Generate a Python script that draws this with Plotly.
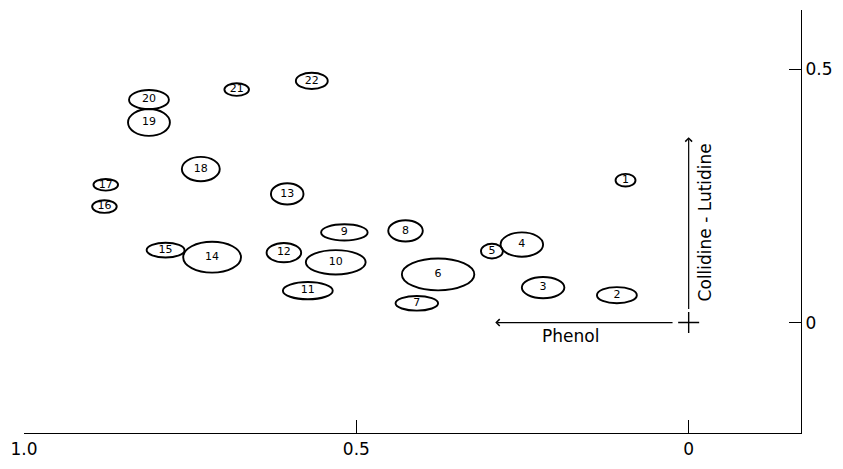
import plotly.graph_objects as go

# ---- data (Rf values) ----
spot_labels = [str(i) for i in range(1, 23)]
rf_phenol = [0.095, 0.108, 0.219, 0.251, 0.296, 0.377, 0.409, 0.426, 0.518, 0.531, 0.573,
             0.609, 0.604, 0.717, 0.787, 0.879, 0.877, 0.734, 0.812, 0.812, 0.680, 0.567]
rf_collidine = [0.281, 0.054, 0.069, 0.154, 0.141, 0.095, 0.038, 0.181, 0.178, 0.119, 0.063,
                0.138, 0.254, 0.129, 0.143, 0.229, 0.272, 0.303, 0.395, 0.440, 0.460, 0.477]
# spot extent in Rf units (width along phenol, height along collidine-lutidine)
spot_width = [0.030, 0.060, 0.064, 0.064, 0.033, 0.109, 0.064, 0.052, 0.070, 0.090, 0.075,
              0.052, 0.049, 0.087, 0.057, 0.037, 0.037, 0.057, 0.063, 0.060, 0.037, 0.048]
spot_height = [0.025, 0.032, 0.042, 0.048, 0.029, 0.063, 0.029, 0.042, 0.032, 0.048, 0.034,
               0.038, 0.042, 0.061, 0.029, 0.025, 0.023, 0.048, 0.053, 0.038, 0.025, 0.032]

x_tickvals = [1.0, 0.5, 0.0]
x_ticktext = ["1.0", "0.5", "0"]
y_tickvals = [0.0, 0.5]
y_ticktext = ["0", "0.5"]

FONT = "DejaVu Sans"

fig = go.Figure()

# spot outlines
shapes = []
for cx, cy, w, h in zip(rf_phenol, rf_collidine, spot_width, spot_height):
    shapes.append(dict(type="circle", xref="x", yref="y",
                       x0=cx - w / 2, x1=cx + w / 2, y0=cy - h / 2, y1=cy + h / 2,
                       line=dict(color="black", width=1.9), fillcolor="rgba(0,0,0,0)"))

# spot numbers
fig.add_trace(go.Scatter(x=rf_phenol, y=rf_collidine, mode="text", text=spot_labels,
                         textfont=dict(family=FONT, size=11, color="black"),
                         hoverinfo="skip"))

# origin cross
fig.add_trace(go.Scatter(x=[0], y=[0], mode="markers",
                         marker=dict(symbol="cross-thin", size=15,
                                     line=dict(color="black", width=1.4)),
                         hoverinfo="skip"))

annotations = [
    # phenol direction arrow
    dict(x=0.291, y=0.0, ax=0.022, ay=0.0, xref="x", yref="y", axref="x", ayref="y",
         showarrow=True, arrowhead=4, arrowsize=1.1, arrowwidth=1.2, arrowcolor="black", text=""),
    # collidine-lutidine direction arrow
    dict(x=0.0, y=0.366, ax=0.0, ay=0.024, xref="x", yref="y", axref="x", ayref="y",
         showarrow=True, arrowhead=4, arrowsize=1.1, arrowwidth=1.2, arrowcolor="black", text=""),
    dict(x=0.178, y=-0.027, xref="x", yref="y", text="Phenol", showarrow=False,
         font=dict(family=FONT, size=17, color="black")),
    dict(x=-0.024, y=0.197, xref="x", yref="y", text="Collidine - Lutidine", showarrow=False,
         textangle=-90, font=dict(family=FONT, size=17, color="black")),
]

fig.update_layout(
    width=843, height=469,
    margin=dict(l=23, r=38, t=10, b=20),
    paper_bgcolor="white", plot_bgcolor="white",
    showlegend=False,
    shapes=shapes,
    annotations=annotations,
    font=dict(family=FONT, color="black"),
    xaxis=dict(range=[1.0, -0.169], autorange=False, showline=True, linecolor="black",
               linewidth=1.3, ticks="inside", ticklen=13, tickwidth=1.2, tickcolor="black",
               tickvals=x_tickvals, ticktext=x_ticktext, showgrid=False, zeroline=False,
               tickfont=dict(family=FONT, size=17, color="black"), mirror=False),
    yaxis=dict(range=[-0.218, 0.617], autorange=False, side="right", showline=True,
               linecolor="black", linewidth=1.3, ticks="inside", ticklen=12, tickwidth=1.2,
               tickcolor="black", tickvals=y_tickvals, ticktext=y_ticktext, showgrid=False,
               zeroline=False, tickfont=dict(family=FONT, size=17, color="black"), mirror=False),
)

fig.write_html("out.html",
               config={"displayModeBar": False, "responsive": False},
               post_script="document.body.style.margin='0';document.body.style.overflow='hidden';")
